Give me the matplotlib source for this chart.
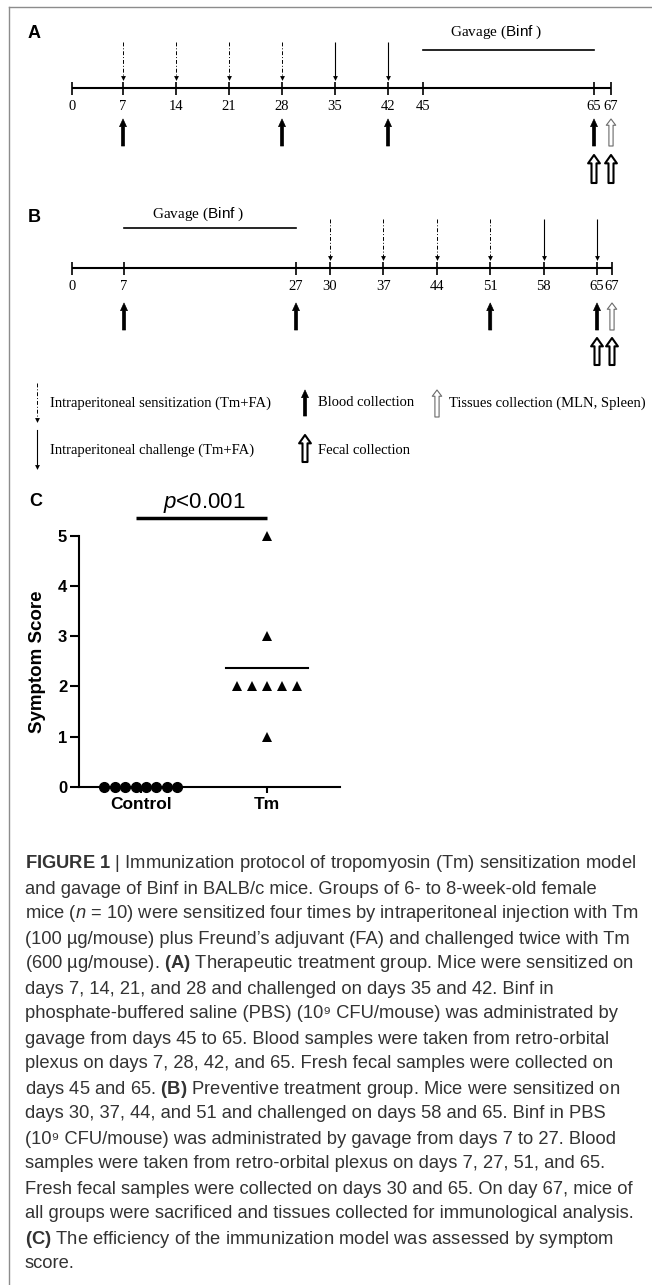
import numpy as np
import matplotlib
matplotlib.use("Agg")
import matplotlib.pyplot as plt
from matplotlib.patches import FancyArrowPatch

plt.rcParams['mathtext.fontset'] = 'custom'
plt.rcParams['mathtext.sf'] = 'Liberation Sans'
plt.rcParams['mathtext.rm'] = 'Liberation Sans'
plt.rcParams['mathtext.bf'] = 'Liberation Sans:bold'
plt.rcParams['mathtext.it'] = 'Liberation Sans:italic'

# ---------------- data ----------------
days_a = [0, 7, 14, 21, 28, 35, 42, 45, 65, 67]
sens_a = [7, 14, 21, 28]
chal_a = [35, 42]
gavage_a = [45, 65]
blood_a = [7, 28, 42, 65]
fecal_a = [65, 67]
tissue_a = [67]

days_b = [0, 7, 27, 30, 37, 44, 51, 58, 65, 67]
sens_b = [30, 37, 44, 51]
chal_b = [58, 65]
gavage_b = [7, 27]
blood_b = [7, 27, 51, 65]
fecal_b = [65, 67]
tissue_b = [67]

groups = ["Control", "Tm"]
control_scores = [0, 0, 0, 0, 0, 0, 0, 0]
tm_scores = [5, 3, 2, 2, 2, 2, 2, 1]
p_label = r"$\mathit{p}$<0.001"

legend_labels = ["Intraperitoneal sensitization (Tm+FA)",
                 "Intraperitoneal challenge (Tm+FA)",
                 "Blood collection", "Fecal collection",
                 "Tissues collection (MLN, Spleen)"]

caption_lines = [
    r"$\mathbf{FIGURE}$ $\mathbf{1}$ | Immunization protocol of tropomyosin (Tm) sensitization model",
    "and gavage of Binf in BALB/c mice. Groups of 6- to 8-week-old female",
    r"mice ($\mathit{n}$ = 10) were sensitized four times by intraperitoneal injection with Tm",
    "(100 µg/mouse) plus Freund’s adjuvant (FA) and challenged twice with Tm",
    r"(600 µg/mouse). $\mathbf{(A)}$ Therapeutic treatment group. Mice were sensitized on",
    "days 7, 14, 21, and 28 and challenged on days 35 and 42. Binf in",
    "phosphate-buffered saline (PBS) (10⁹ CFU/mouse) was administrated by",
    "gavage from days 45 to 65. Blood samples were taken from retro-orbital",
    "plexus on days 7, 28, 42, and 65. Fresh fecal samples were collected on",
    r"days 45 and 65. $\mathbf{(B)}$ Preventive treatment group. Mice were sensitized on",
    "days 30, 37, 44, and 51 and challenged on days 58 and 65. Binf in PBS",
    "(10⁹ CFU/mouse) was administrated by gavage from days 7 to 27. Blood",
    "samples were taken from retro-orbital plexus on days 7, 27, 51, and 65.",
    "Fresh fecal samples were collected on days 30 and 65. On day 67, mice of",
    "all groups were sacrificed and tissues collected for immunological analysis.",
    r"$\mathbf{(C)}$ The efficiency of the immunization model was assessed by symptom",
    "score.",
]

# ---------------- layout ----------------
W, H = 652, 1285
fig = plt.figure(figsize=(W / 100, H / 100), dpi=100)
fig.patch.set_facecolor('white')

SERIF = 'Liberation Serif'
SANS = 'Liberation Sans'

ov = fig.add_axes([0, 0, 1, 1])
ov.set_xlim(0, W)
ov.set_ylim(H, 0)
ov.axis('off')
ov.patch.set_alpha(0)
ov.plot([9, 9], [7, H], color='#8c8c8c', lw=1)
ov.plot([9, W], [7, 7], color='#8c8c8c', lw=1)


def timeline_axes(top, bot, kd, kp):
    ax = fig.add_axes([0, 1 - bot / H, 1, (bot - top) / H])
    kd = np.asarray(kd, float)
    kp = np.asarray(kp, float)
    ax.set_xscale('function', functions=(lambda d: np.interp(d, kd, kp),
                                         lambda p: np.interp(p, kp, kd)))
    ax.set_xlim(kd[0], kd[-1])
    ax.set_ylim(bot, top)
    ax.axis('off')
    ax.patch.set_alpha(0)
    return ax


def up_arrow(ax, x, y0, y1, kind):
    if kind == 'blood':
        st = 'simple,head_length=0.55,head_width=0.5,tail_width=0.22'
        kw = dict(fc='black', ec='black', lw=0.5)
    elif kind == 'fecal':
        st = 'simple,head_length=0.6,head_width=0.85,tail_width=0.36'
        kw = dict(fc='white', ec='black', lw=1.5)
    else:
        st = 'simple,head_length=0.45,head_width=0.68,tail_width=0.3'
        kw = dict(fc='white', ec='#6a6a6a', lw=0.8)
    p = FancyArrowPatch((x, y0), (x, y1), arrowstyle=st, mutation_scale=10,
                        shrinkA=0, shrinkB=0, transform=ax.transData,
                        clip_on=False, zorder=3, **kw)
    ax.add_patch(p)


def draw_timeline(ax, days, sens, chal, gav, blood, fecal, tissue, y):
    ax.plot([min(days), max(days)], [y['axis'], y['axis']], color='black', lw=1.5,
            solid_capstyle='butt')
    ax.vlines(days, y['axis'] - 6, y['axis'] + 7, color='black', lw=1.2)
    for d in days:
        ax.text(d, y['num'], str(d), ha='center', va='center', family=SERIF,
                fontsize=10.5)
    ax.vlines(sens, y['down'][0], y['down'][1] - 2, color='black', lw=0.7,
              linestyles=[(0, (4, 2, 1, 2))])
    ax.plot(sens, [y['down'][1]] * len(sens), 'v', color='black', ms=3.5,
            mew=0)
    ax.vlines(chal, y['down'][0], y['down'][1] - 2, color='black', lw=0.8)
    ax.plot(chal, [y['down'][1]] * len(chal), 'v', color='black', ms=3.5,
            mew=0)
    ax.plot(gav, [y['gav'], y['gav']], color='black', lw=1.2)
    ax.annotate(r"Gavage ($\mathsf{Binf}$ )", xy=(np.mean(gav), y['gavtxt']),
                xytext=(-12, 0), textcoords='offset pixels', ha='center',
                va='center', family=SERIF, fontsize=11)
    for d in blood:
        up_arrow(ax, d, y['blood'][1], y['blood'][0], 'blood')
    for d in tissue:
        up_arrow(ax, d, y['blood'][1], y['blood'][0], 'tissue')
    for d in fecal:
        up_arrow(ax, d, y['fecal'][1], y['fecal'][0], 'fecal')


axA = timeline_axes(0, 190, [-9.8, 0, 7, 42, 45, 65, 67, 72.0],
                    [0, 72, 123, 388, 423, 594, 611, 652])
draw_timeline(axA, days_a, sens_a, chal_a, gavage_a, blood_a, fecal_a, tissue_a,
              dict(axis=88, num=107, down=(42, 78), gav=50, gavtxt=32,
                   blood=(119, 146), fecal=(155, 183)))

axB = timeline_axes(190, 372, [-9.8, 0, 7, 27, 30, 65, 67, 72.0],
                    [0, 72, 124, 296, 330, 597, 612, 652])
draw_timeline(axB, days_b, sens_b, chal_b, gavage_b, blood_b, fecal_b, tissue_b,
              dict(axis=268, num=287, down=(219, 258), gav=228, gavtxt=214,
                   blood=(303, 330), fecal=(338, 365)))

ov.text(28, 34, 'A', family=SANS, fontweight='bold', fontsize=13,
        ha='left', va='center')
ov.text(28, 217, 'B', family=SANS, fontweight='bold', fontsize=13,
        ha='left', va='center')

# ---------------- legend ----------------
ov.plot([37, 37], [383, 417], color='black', lw=0.7, ls=(0, (4, 2, 1, 2)))
ov.plot([37], [420], 'v', color='black', ms=3.5, mew=0)
ov.plot([37, 37], [430, 464], color='black', lw=0.8)
ov.plot([37], [467], 'v', color='black', ms=3.5, mew=0)
ov.text(50, 403, legend_labels[0], family=SERIF, fontsize=10.5, va='center')
ov.text(50, 450, legend_labels[1], family=SERIF, fontsize=10.5, va='center')
up_arrow(ov, 305, 416, 390, 'blood')
ov.text(318, 403, legend_labels[2], family=SERIF, fontsize=10.5, va='center')
up_arrow(ov, 305, 462, 435, 'fecal')
ov.text(318, 450, legend_labels[3], family=SERIF, fontsize=10.5, va='center')
up_arrow(ov, 437, 417, 390, 'tissue')
ov.text(449, 403, legend_labels[4], family=SERIF, fontsize=10.5, va='center')

# ---------------- panel C ----------------
axC = fig.add_axes([79 / W, 1 - 787 / H, (340 - 79) / W, (787 - 535.7) / H])
axC.set_xlim(-0.49, 1.58)
axC.set_ylim(0, 5)
for s in ['top', 'right']:
    axC.spines[s].set_visible(False)
for s in ['left', 'bottom']:
    axC.spines[s].set_linewidth(1.5)


def swarm(vals, step):
    vals = np.asarray(vals, float)
    off = np.zeros_like(vals)
    for v in np.unique(vals):
        idx = np.where(vals == v)[0]
        off[idx] = (np.arange(len(idx)) - (len(idx) - 1) / 2) * step
    return off


cx = 0 + swarm(control_scores, 0.083)
tx = 1 + swarm(tm_scores, 0.119)
axC.plot(cx, control_scores, 'o', color='black', ms=7, clip_on=False, zorder=4)
axC.plot(tx, tm_scores, '^', color='black', ms=7.5, mew=0, clip_on=False,
         zorder=4)
for i, vals in enumerate([control_scores, tm_scores]):
    m = np.mean(vals)
    axC.plot([i - 0.325, i + 0.325], [m, m], color='black', lw=1.5,
             clip_on=False, zorder=3)

axC.set_yticks(range(0, 6))
axC.set_xticks([0, 1])
axC.set_xticklabels(groups)
axC.tick_params(axis='y', direction='out', length=6.5, width=1.5, pad=2)
axC.tick_params(axis='x', direction='out', length=4.5, width=1.5, pad=3)
for lab in axC.get_yticklabels():
    lab.set_fontfamily(SANS)
    lab.set_fontweight('bold')
    lab.set_fontsize(12)
for lab in axC.get_xticklabels():
    lab.set_fontfamily(SANS)
    lab.set_fontweight('bold')
    lab.set_fontsize(12.5)
axC.set_ylabel('Symptom Score', family=SANS, fontweight='bold', fontsize=13.5)
axC.yaxis.set_label_coords(-0.125, 0.5)

axC.plot([-0.04, 1.0], [5.36, 5.36], color='black', lw=2.5, clip_on=False,
         solid_capstyle='butt')
axC.text(0.5, 5.56, p_label, ha='center', va='baseline', family=SANS,
         fontsize=16, clip_on=False)
ov.text(29, 502, 'C', family=SANS, fontweight='bold', fontsize=13,
        ha='left', va='center')

# ---------------- caption ----------------
renderer = fig.canvas.get_renderer()
probe = fig.text(0, 0, caption_lines[0], family=SANS, fontsize=12)
w0 = probe.get_window_extent(renderer).width
probe.remove()
cap_fs = 12 * 612 / w0
for i, line in enumerate(caption_lines):
    ov.text(25, 864 + 25 * i, line, family=[SANS, 'DejaVu Sans'],
            fontsize=cap_fs, color='#333333', va='center', ha='left')

fig.savefig('out.png', dpi=100, facecolor='white')
